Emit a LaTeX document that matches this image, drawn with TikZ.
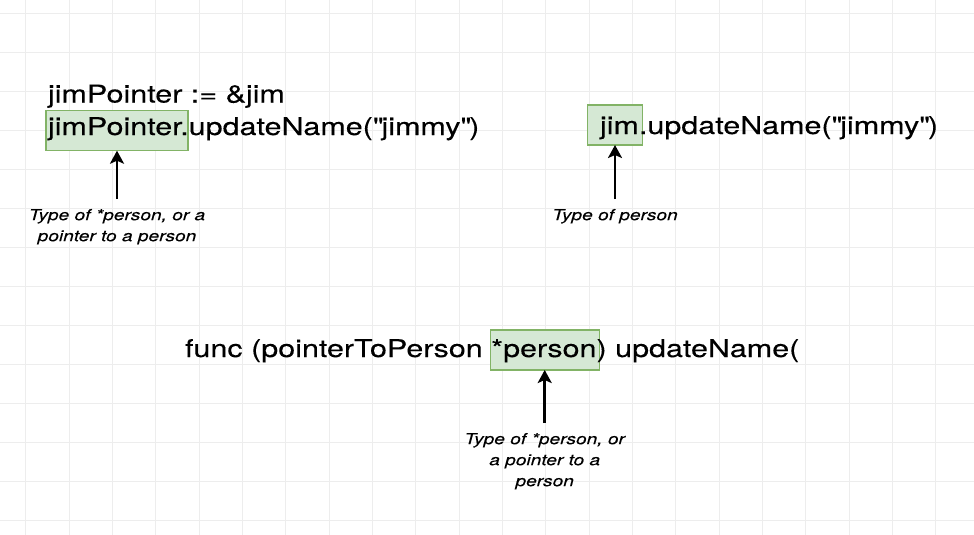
\documentclass[tikz,border=0pt]{standalone}
\usepackage{fontspec}
\newfontfamily\codefont[FakeStretch=1.25,FakeBold=0.15]{TeX Gyre Heros}
\newfontfamily\notefont[FakeStretch=1.25,FakeBold=0.1]{TeX Gyre Heros}
\usepackage{tikz}
\tikzset{
  every node/.style = {
    inner sep = 0pt,
    outer sep = 0pt
  }
}
\usetikzlibrary{
arrows.meta,
backgrounds
}
\definecolor{gridgray}{HTML}{EDEDED}
\definecolor{boxfill}{HTML}{D5E8D4}
\definecolor{boxline}{HTML}{82B366}

\begin{document}
\begin{tikzpicture}[
      x = 1pt,
      y = -1pt,
      grid line/.style={
        gridgray,
        line width = 0.8pt,
      },
      highlight/.style={
        draw = boxline,
        fill = boxfill,
        line width = 1.4pt,
        minimum height = 40pt,
      },
      code/.style={
        anchor = base west,
        font = \codefont\fontsize{24.4}{33}\selectfont,
      },
      note/.style={
        anchor = north,
        align = center,
        inner ysep = 10pt,
        font = \notefont\itshape\fontsize{15.3}{21}\selectfont,
      },
      pointer/.style={
        line width = 2.8pt,
        -{Stealth[length=13pt, width=14pt, inset=3pt]},
      },
      ]
      \useasboundingbox [fill=white] (0,0) rectangle (974,535);
      % background grid
      \foreach \gx in {0,...,21}
        \draw [grid line] (25.7+43.33*\gx,0) -- ++(0,535);
      \foreach \gy in {0,...,13}
        \draw [grid line] (0,13.3+39*\gy) -- ++(974,0);
      % highlighted parts
      \node [highlight, minimum width=142pt] (box-pointer) at (117,130.7) {};
      \node [highlight, minimum width=55pt] (box-value) at (615,125) {};
      \node [highlight, minimum width=109pt] (box-receiver) at (544.7,350) {};
      % code lines
      \node [code] (code-assign) at (48,102.5) {jimPointer := \&jim};
      \node [code] (code-call-pointer) at (48,135)
      {jimPointer.updateName(\textquotedbl jimmy\textquotedbl)};
      \node [code] (code-call-value) at (600,134)
      {jim.updateName(\textquotedbl jimmy\textquotedbl)};
      \node [code] (code-func) at (185,357)
      {func (pointerToPerson *person) updateName(};
      % notes
      \node [note] (note-pointer) at (117,199)
      {Type of *person, or a\\pointer to a person};
      \node [note] (note-value) at (615,199) {Type of person};
      \node [note] (note-receiver) at (544.7,423)
      {Type of *person, or\\a pointer to a\\person};
      \draw [pointer] (note-pointer.north) -- (box-pointer.south);
      \draw [pointer] (note-value.north) -- (box-value.south);
      \draw [pointer] (note-receiver.north) -- (box-receiver.south);
    \end{tikzpicture}
\end{document}
